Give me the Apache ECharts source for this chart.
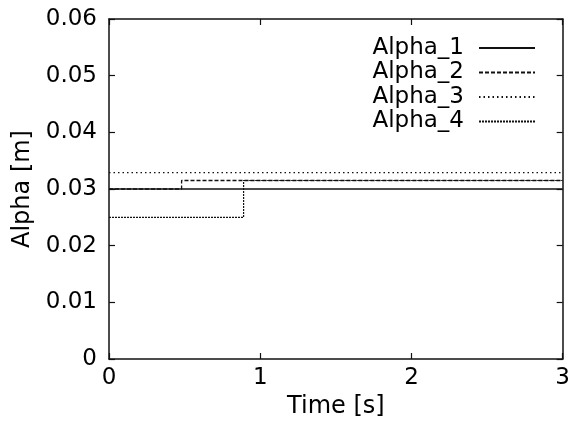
<!DOCTYPE html>
<html>
<head>
<meta charset="utf-8">
<script src="https://cdn.jsdelivr.net/npm/echarts@6/dist/echarts.min.js"></script>
<style>
  html, body { margin: 0; padding: 0; background: #fff; }
  #chart { width: 573px; height: 424px; }
</style>
</head>
<body>
<div id="chart"></div>
<script>
// Step profiles: [time (s), alpha (m)], each value held until the next time point
const seriesNames = ['Alpha_1', 'Alpha_2', 'Alpha_3', 'Alpha_4'];
const alpha1 = [[0, 0.0300], [3, 0.0300]];
const alpha2 = [[0, 0.0300], [0.48, 0.0315], [3, 0.0315]];
const alpha3 = [[0, 0.0329], [3, 0.0329]];
const alpha4 = [[0, 0.0250], [0.89, 0.0315], [3, 0.0315]];
const xTicks = [0, 1, 2, 3];
const yTickLabels = ['0', '0.01', '0.02', '0.03', '0.04', '0.05', '0.06'];

const FONT = 'DejaVu Sans';
const INK = '#111';
const dashes = ['solid', [4, 2], [1.5, 3], [2, 1]];
const widths = [1.6, 1.3, 1.3, 1.2];

const chart = echarts.init(document.getElementById('chart'));

// Framed plot: all four sides drawn, ticks pointing into the plot
const frameLine = { show: true, onZero: false, lineStyle: { color: INK, width: 1.5 } };
const tick = { show: true, inside: true, length: 6, lineStyle: { color: INK, width: 1.2 } };

chart.setOption({
  animation: false,
  backgroundColor: '#fff',
  textStyle: { fontFamily: FONT, color: '#000' },
  grid: { left: 109, right: 7, top: 19, bottom: 65 },
  legend: {
    orient: 'vertical',
    right: 32,
    top: 31,
    align: 'right',
    itemWidth: 56,
    itemHeight: 14,
    itemGap: 0.5,
    data: seriesNames,
    itemStyle: { opacity: 0 },
    textStyle: { fontFamily: FONT, fontSize: 23, lineHeight: 24, color: '#000', padding: [0, 10, 0, 0] }
  },
  xAxis: [{
    type: 'value', min: xTicks[0], max: xTicks[xTicks.length - 1], interval: 1,
    position: 'bottom',
    name: 'Time [s]', nameLocation: 'middle', nameGap: 36,
    nameTextStyle: { fontFamily: FONT, fontSize: 24, color: '#000' },
    axisLine: frameLine, axisTick: tick,
    axisLabel: { fontFamily: FONT, fontSize: 23, color: '#000', margin: 8 },
    splitLine: { show: false }
  }, {
    type: 'value', min: xTicks[0], max: xTicks[xTicks.length - 1], interval: 1,
    position: 'top',
    axisLine: frameLine, axisTick: tick,
    axisLabel: { show: false }, splitLine: { show: false }
  }],
  yAxis: [{
    type: 'value', min: 0, max: 0.06, interval: 0.01,
    position: 'left',
    name: 'Alpha [m]', nameLocation: 'middle', nameGap: 72,
    nameTextStyle: { fontFamily: FONT, fontSize: 24, color: '#000' },
    axisLine: frameLine, axisTick: tick,
    axisLabel: {
      fontFamily: FONT, fontSize: 23, color: '#000', margin: 12,
      formatter: v => yTickLabels[Math.round(v / 0.01)]
    },
    splitLine: { show: false }
  }, {
    type: 'value', min: 0, max: 0.06, interval: 0.01,
    position: 'right',
    axisLine: frameLine, axisTick: tick,
    axisLabel: { show: false }, splitLine: { show: false }
  }],
  series: [alpha1, alpha2, alpha3, alpha4].map((d, i) => ({
    name: seriesNames[i],
    type: 'line',
    step: 'end',
    data: d,
    symbol: 'none',
    color: INK,
    lineStyle: { color: INK, width: widths[i], type: dashes[i] }
  }))
});
</script>
</body>
</html>
